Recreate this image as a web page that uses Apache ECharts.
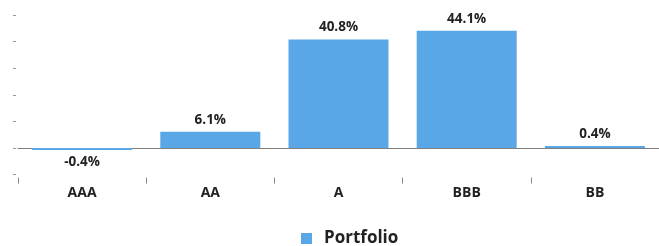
<!DOCTYPE html>
<html>
<head>
<meta charset="utf-8">
<script src="https://cdn.jsdelivr.net/npm/echarts@6/dist/echarts.min.js"></script>
<style>
html,body{margin:0;padding:0;background:#fff;}
#c{width:659px;height:246px;}
</style>
</head>
<body>
<div id="c"></div>
<script>
var categories = ['AAA', 'AA', 'A', 'BBB', 'BB'];
var portfolio = [-0.4, 6.1, 40.8, 44.1, 0.4];
var seriesName = 'Portfolio';

var chart = echarts.init(document.getElementById('c'), null, {renderer: 'canvas'});
var font = "'Open Sans', 'Noto Sans', sans-serif";
chart.setOption({
  animation: false,
  grid: {left: 18, right: -4, top: 15, bottom: 71.4, containLabel: false},
  legend: {
    data: [seriesName],
    bottom: -6,
    left: 296,
    icon: 'rect',
    itemWidth: 11,
    itemHeight: 11,
    itemGap: 10,
    textStyle: {fontFamily: font, fontWeight: 'bold', fontSize: 17, color: '#222', padding: [0, 0, 0, 7]}
  },
  xAxis: [{
    type: 'category',
    data: categories,
    position: 'bottom',
    offset: 3,
    axisLine: {show: false, onZero: false},
    axisTick: {show: true, length: 6, lineStyle: {color: '#888'}},
    axisLabel: {margin: 8, fontFamily: font, fontWeight: 'bold', fontSize: 14, color: '#222'},
    splitLine: {show: false}
  }, {
    type: 'category',
    data: categories,
    position: 'bottom',
    axisLine: {show: true, onZero: true, lineStyle: {color: '#808080', width: 1.2}},
    axisTick: {show: false},
    axisLabel: {show: false},
    splitLine: {show: false}
  }],
  yAxis: {
    type: 'value',
    min: -10,
    max: 50,
    interval: 10,
    offset: 2,
    axisLine: {show: false},
    axisTick: {show: true, length: 3, lineStyle: {color: '#999'}},
    axisLabel: {show: false},
    splitLine: {show: false}
  },
  series: [{
    name: seriesName,
    type: 'bar',
    xAxisIndex: 0,
    barCategoryGap: '22%',
    barMinHeight: 2,
    itemStyle: {color: '#5aa7e8'},
    data: portfolio.map(function (v) {
      return {value: v, label: {position: v < 0 ? 'bottom' : 'top'}};
    }),
    label: {
      show: true,
      distance: 5,
      fontFamily: font,
      fontWeight: 'bold',
      fontSize: 13.5,
      color: '#222',
      formatter: function (p) { return p.value.toFixed(1) + '%'; }
    }
  }]
});
</script>
</body>
</html>
